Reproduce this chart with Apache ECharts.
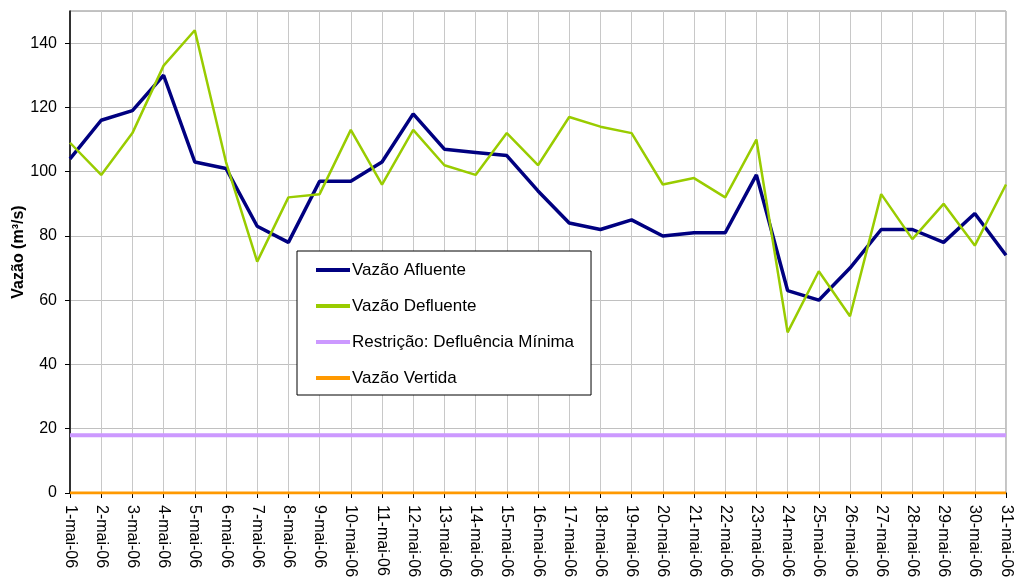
<!DOCTYPE html>
<html>
<head>
<meta charset="utf-8">
<script src="https://cdn.jsdelivr.net/npm/echarts@6/dist/echarts.min.js"></script>
<style>
  html, body { margin: 0; padding: 0; background: #fff; }
  #chart { width: 1015px; height: 582px; }
</style>
</head>
<body>
<div id="chart"></div>
<script>
const days = [];
for (let d = 1; d <= 31; d++) days.push(d + '-mai-06');

const afluente = [104, 116, 119, 130, 103, 101, 83, 78, 97, 97, 103, 118, 107, 106, 105, 94,
  84, 82, 85, 80, 81, 81, 99, 63, 60, 70, 82, 82, 78, 87, 74];
const defluente = [109, 99, 112, 133, 144, 103, 72, 92, 93, 113, 96, 113, 102, 99, 112, 102,
  117, 114, 112, 96, 98, 92, 110, 50, 69, 55, 93, 79, 90, 77, 96];
const defluenciaMinima = days.map(() => 18);
const vertida = days.map(() => 0);

const font = 'Liberation Sans, Arial, sans-serif';

const chart = echarts.init(document.getElementById('chart'));

chart.setOption({
  animation: false,
  textStyle: { fontFamily: font },
  grid: {
    left: 70, right: 9, top: 11, bottom: 89,
    outerBoundsMode: 'none',
    show: true, borderColor: '#888', borderWidth: 1
  },
  legend: {
    orient: 'vertical',
    left: 297, top: 251,
    padding: [10, 17, 8, 19],
    itemGap: 18,
    itemWidth: 34,
    itemHeight: 4,
    icon: 'rect',
    backgroundColor: '#fff',
    borderColor: '#000',
    borderWidth: 1,
    borderRadius: 0,
    textStyle: { fontFamily: font, fontSize: 17, lineHeight: 18, color: '#000', padding: [0, 0, 0, -3] },
    data: ['Vazão Afluente', 'Vazão Defluente', 'Restrição: Defluência Mínima', 'Vazão Vertida']
  },
  xAxis: {
    type: 'category',
    data: days,
    boundaryGap: false,
    axisLine: { lineStyle: { color: '#000', width: 1.5 } },
    axisTick: { show: true, interval: 0, length: 5, lineStyle: { color: '#000' } },
    axisLabel: { interval: 0, rotate: -90, fontSize: 16, color: '#000', margin: 12, fontFamily: font },
    splitLine: { show: true, interval: 0, lineStyle: { color: '#c8c8c8', width: 1 } }
  },
  yAxis: {
    type: 'value',
    min: 0, max: 150, interval: 20,
    name: 'Vazão (m³/s)',
    nameLocation: 'middle',
    nameGap: 43,
    nameMoveOverlap: false,
    nameTextStyle: { fontFamily: font, fontSize: 16, fontWeight: 'bold', color: '#000' },
    axisLine: { show: true, lineStyle: { color: '#000', width: 1.5 } },
    axisTick: { show: true, length: 5, lineStyle: { color: '#000' } },
    axisLabel: { fontSize: 16, color: '#000', margin: 13, showMaxLabel: false, fontFamily: font },
    splitLine: { show: true, lineStyle: { color: '#c0c0c0', width: 1 } }
  },
  series: [
    {
      name: 'Vazão Afluente', type: 'line', data: afluente, symbol: 'none',
      lineStyle: { color: '#000080', width: 3.5 }, itemStyle: { color: '#000080' }, z: 5
    },
    {
      name: 'Vazão Defluente', type: 'line', data: defluente, symbol: 'none',
      lineStyle: { color: '#99cc00', width: 2.5 }, itemStyle: { color: '#99cc00' }, z: 6
    },
    {
      name: 'Restrição: Defluência Mínima', type: 'line', data: defluenciaMinima, symbol: 'none',
      lineStyle: { color: '#cc99ff', width: 4 }, itemStyle: { color: '#cc99ff' }, z: 4
    },
    {
      name: 'Vazão Vertida', type: 'line', data: vertida, symbol: 'none',
      lineStyle: { color: '#ff9900', width: 3 }, itemStyle: { color: '#ff9900' }, z: 4
    }
  ]
});
</script>
</body>
</html>
